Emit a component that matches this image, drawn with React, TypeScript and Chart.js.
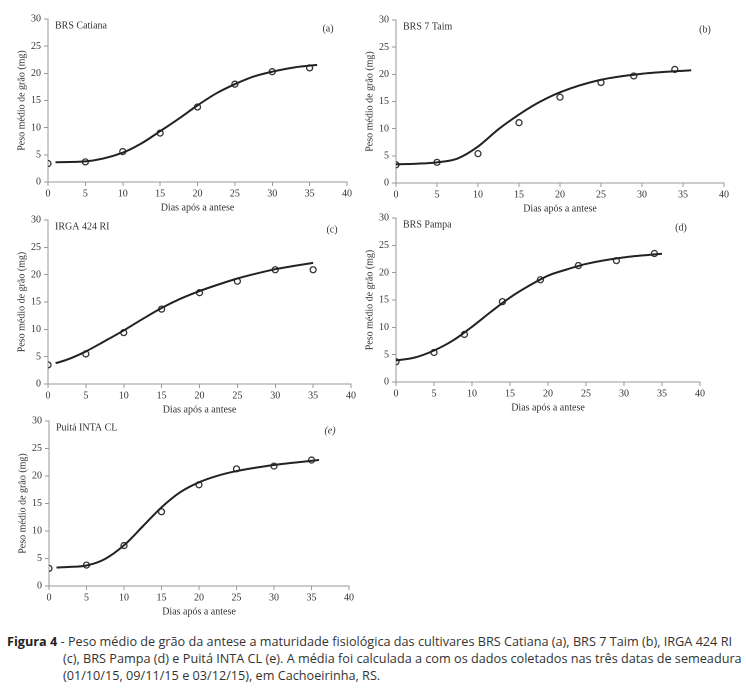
import React, { useEffect, useLayoutEffect, useRef, useState } from "react";
import { Chart, registerables } from "chart.js";
Chart.register(...registerables);

const panelNames = ["BRS Catiana", "BRS 7 Taim", "IRGA 424 RI", "BRS Pampa", "Puitá INTA CL"];
const panelLetters = ["(a)", "(b)", "(c)", "(d)", "(e)"];
const xTitle = "Dias após a antese";
const yTitle = "Peso médio de grão (mg)";

// observed means
const obsDaysA = [0, 5, 10, 15, 20, 25, 30, 35];
const obsA = [3.4, 3.7, 5.6, 9.0, 13.8, 18.0, 20.3, 21.0];
const obsDaysB = [0, 5, 10, 15, 20, 25, 29, 34];
const obsB = [3.35, 3.8, 5.4, 11.1, 15.8, 18.5, 19.7, 20.9];
const obsDaysC = [0, 5, 10, 15, 20, 25, 30, 35];
const obsC = [3.5, 5.5, 9.4, 13.7, 16.7, 18.8, 20.9, 20.9];
const obsDaysD = [0, 5, 9, 14, 19, 24, 29, 34];
const obsD = [3.7, 5.4, 8.7, 14.7, 18.7, 21.3, 22.2, 23.5];
const obsDaysE = [0, 5, 10, 15, 20, 25, 30, 35];
const obsE = [3.2, 3.8, 7.35, 13.5, 18.4, 21.3, 21.8, 22.9];

// fitted curves
const fitDaysA = [1, 5, 10, 12.5, 15, 17.5, 20, 22.5, 25, 27.5, 30, 33, 36];
const fitA = [3.64, 3.8, 5.4, 7.1, 9.35, 11.66, 14.1, 16.3, 18.0, 19.4, 20.3, 21.1, 21.55];
const fitDaysB = [0, 2.5, 5, 7.5, 10, 12.5, 15, 17.5, 20, 25, 30, 36];
const fitB = [3.45, 3.55, 3.8, 4.5, 6.7, 9.9, 12.6, 14.9, 16.7, 19.0, 20.1, 20.75];
const fitDaysC = [1, 2.5, 5, 7.5, 10, 12.5, 15, 17.5, 20, 22.5, 25, 27.5, 30, 32.5, 35];
const fitC = [3.8, 4.44, 5.96, 7.85, 9.8, 11.9, 13.9, 15.6, 17.0, 18.2, 19.3, 20.2, 21.0, 21.6, 22.15];
const fitDaysD = [0, 2.5, 5, 7.5, 10, 12.5, 15, 17.5, 20, 22.5, 25, 30, 35];
const fitD = [3.94, 4.48, 5.76, 7.6, 10.1, 12.85, 15.45, 17.6, 19.45, 20.6, 21.6, 22.8, 23.45];
const fitDaysE = [1, 2.5, 5, 7.5, 10, 12.5, 15, 17.5, 20, 22.5, 25, 30, 36];
const fitE = [3.37, 3.45, 3.73, 4.94, 7.4, 10.84, 14.3, 17.05, 18.85, 20.06, 20.9, 22.0, 22.9];

const obsDays = [obsDaysA, obsDaysB, obsDaysC, obsDaysD, obsDaysE];
const obsVals = [obsA, obsB, obsC, obsD, obsE];
const fitDays = [fitDaysA, fitDaysB, fitDaysC, fitDaysD, fitDaysE];
const fitVals = [fitA, fitB, fitC, fitD, fitE];

// plot-area rectangles on the page: left, top, right, bottom
const plotRects = [
  [48, 18, 347, 182],
  [396, 19, 724, 183],
  [48, 219, 351, 384],
  [396, 217, 700, 382],
  [49, 420, 349, 586],
];

const YW = 32;
const PT = 8;
const XH = 32;
const PR = 12;
const SERIF = '"Liberation Serif", "Times New Roman", serif';

function Panel({ idx }: { idx: number }) {
  const ref = useRef<HTMLCanvasElement | null>(null);
  const [l, t, r, b] = plotRects[idx];
  const w = r - l + YW + PR;
  const h = b - t + PT + XH;
  useEffect(() => {
    if (!ref.current) return;
    const labelPlugin = {
      id: "panelLabels",
      afterDraw(chart: any) {
        const { ctx, chartArea } = chart;
        ctx.save();
        ctx.fillStyle = "#333";
        ctx.font = `10px ${SERIF}`;
        ctx.textBaseline = "middle";
        ctx.textAlign = "left";
        ctx.fillText(panelNames[idx], chartArea.left + 7, chartArea.top + 7);
        ctx.textAlign = "center";
        ctx.font = `${idx === 4 ? "italic " : ""}10px ${SERIF}`;
        ctx.fillText(panelLetters[idx], chartArea.right - 19, chartArea.top + 10);
        ctx.restore();
      },
    };
    const chart = new Chart(ref.current, {
      type: "scatter",
      data: {
        datasets: [
          {
            label: "ajuste",
            data: fitDays[idx].map((x, i) => ({ x, y: fitVals[idx][i] })),
            showLine: true,
            borderColor: "#222",
            borderWidth: 2,
            pointRadius: 0,
            cubicInterpolationMode: "monotone",
            order: 1,
          },
          {
            label: "observado",
            data: obsDays[idx].map((x, i) => ({ x, y: obsVals[idx][i] })),
            showLine: false,
            pointRadius: 3,
            pointBorderWidth: 1.3,
            pointBorderColor: "#333",
            pointBackgroundColor: "rgba(255,255,255,0)",
            order: 2,
          },
        ],
      } as any,
      options: {
        animation: false,
        responsive: false,
        devicePixelRatio: 2,
        layout: { padding: { left: 0, top: PT, right: PR, bottom: 0 } },
        plugins: { legend: { display: false }, tooltip: { enabled: false } },
        scales: {
          x: {
            type: "linear",
            min: 0,
            max: 40,
            ticks: { stepSize: 5, color: "#333", font: { family: SERIF, size: 10 }, padding: 2 },
            grid: { display: true, drawOnChartArea: false, drawTicks: true, tickLength: 4, color: "#999" },
            border: { display: true, color: "#999", width: 1 },
            title: { display: true, text: xTitle, color: "#333", font: { family: SERIF, size: 10 }, padding: 0 },
            afterFit: (s: any) => { s.height = XH; },
          },
          y: {
            type: "linear",
            min: 0,
            max: 30,
            ticks: { stepSize: 5, color: "#333", font: { family: SERIF, size: 10 }, padding: 3 },
            grid: { display: true, drawOnChartArea: false, drawTicks: true, tickLength: 4, color: "#999" },
            border: { display: true, color: "#999", width: 1 },
            title: { display: true, text: yTitle, color: "#333", font: { family: SERIF, size: 10 }, padding: 0 },
            afterFit: (s: any) => { s.width = YW; },
          },
        },
      } as any,
      plugins: [labelPlugin],
    });
    return () => chart.destroy();
  }, [idx]);
  return (
    <canvas
      ref={ref}
      width={w}
      height={h}
      style={{ position: "absolute", left: l - YW, top: t - PT, width: w, height: h }}
    />
  );
}

const captionLead = "Figura 4";
const captionLine1 = " - Peso médio de grão da antese a maturidade fisiológica das cultivares BRS Catiana (a), BRS 7 Taim (b), IRGA 424 RI";
const captionLine2 = "(c), BRS Pampa (d) e Puitá INTA CL (e). A média foi calculada a com os dados coletados nas três datas de semeadura";
const captionLine3 = "(01/10/15, 09/11/15 e 03/12/15), em Cachoeirinha, RS.";

const CAPFONT = '"Open Sans", "Noto Sans", sans-serif';

function Caption() {
  const l2 = useRef<HTMLDivElement | null>(null);
  const [k, setK] = useState(1);
  useLayoutEffect(() => {
    if (l2.current) {
      const wNat = l2.current.scrollWidth;
      if (wNat > 0) setK(679 / wNat);
    }
  }, []);
  const base: React.CSSProperties = {
    position: "absolute",
    fontFamily: CAPFONT,
    fontSize: 12,
    lineHeight: "17px",
    color: "#333",
    whiteSpace: "nowrap",
    transformOrigin: "0 50%",
    transform: `scaleX(${k})`,
  };
  return (
    <>
      <div style={{ ...base, left: 7, top: 633 }}>
        <b style={{ color: "#222" }}>{captionLead}</b>
        {captionLine1}
      </div>
      <div ref={l2} style={{ ...base, left: 63, top: 650 }}>{captionLine2}</div>
      <div style={{ ...base, left: 63, top: 667 }}>{captionLine3}</div>
    </>
  );
}

export default function App() {
  return (
    <div style={{ position: "absolute", left: 0, top: 0, width: 746, height: 689, background: "#fff", overflow: "hidden" }}>
      {[0, 1, 2, 3, 4].map((i) => (
        <Panel key={i} idx={i} />
      ))}
      <Caption />
    </div>
  );
}
